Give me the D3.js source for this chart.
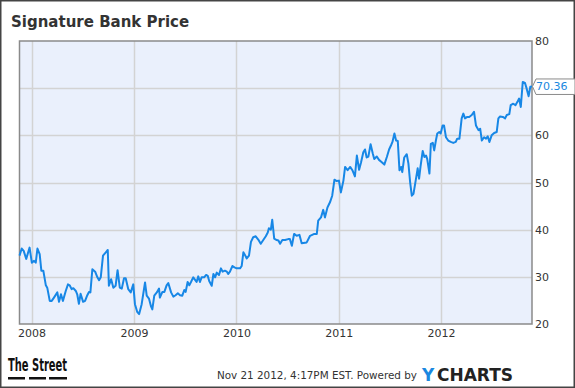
<!DOCTYPE html>
<html>
<head>
<meta charset="utf-8">
<script src="https://cdn.jsdelivr.net/npm/d3@7"></script>
<style>
  body { margin: 0; background: #fff; }
  svg { display: block; font-family: "DejaVu Sans", sans-serif; }
</style>
</head>
<body>
<svg id="chart" width="575" height="388"></svg>
<script>
// weekly-ish closes
var dates = [
  "2007-11-19","2007-11-27","2007-12-04","2007-12-13","2007-12-25","2008-01-02","2008-01-10","2008-01-16","2008-01-22","2008-01-30",
  "2008-02-05","2008-02-12","2008-02-21","2008-02-26","2008-03-06","2008-03-13","2008-03-21","2008-04-02","2008-04-08","2008-04-15",
  "2008-04-22","2008-05-02","2008-05-10","2008-05-16","2008-05-23","2008-05-29","2008-06-07","2008-06-12","2008-06-18","2008-06-24",
  "2008-07-03","2008-07-10","2008-07-18","2008-07-24","2008-07-29","2008-08-05","2008-08-15","2008-08-23","2008-08-29","2008-09-04",
  "2008-09-12","2008-09-22","2008-09-29","2008-10-03","2008-10-11","2008-10-19","2008-10-27","2008-11-03","2008-11-11","2008-11-18",
  "2008-11-26","2008-12-02","2008-12-11","2008-12-20","2008-12-29","2009-01-04","2009-01-12","2009-01-19","2009-01-28","2009-02-09",
  "2009-02-15","2009-02-23","2009-03-02","2009-03-07","2009-03-14","2009-03-23","2009-03-31","2009-04-03","2009-04-12","2009-04-19",
  "2009-04-27","2009-05-03","2009-05-13","2009-05-21","2009-05-29","2009-06-06","2009-06-14","2009-06-22","2009-06-29","2009-07-04",
  "2009-07-11","2009-07-17","2009-07-23","2009-07-31","2009-08-06","2009-08-12","2009-08-18","2009-08-24","2009-08-30","2009-09-08",
  "2009-09-15","2009-09-21","2009-09-26","2009-10-05","2009-10-11","2009-10-17","2009-10-23","2009-10-31","2009-11-07","2009-11-13",
  "2009-11-21","2009-11-28","2009-12-03","2009-12-09","2009-12-18","2009-12-25","2010-01-02","2010-01-14","2010-01-20","2010-01-26",
  "2010-02-01","2010-02-07","2010-02-15","2010-02-22","2010-03-02","2010-03-11","2010-03-20","2010-03-29","2010-04-07","2010-04-16",
  "2010-04-23","2010-04-27","2010-05-04","2010-05-09","2010-05-16","2010-05-25","2010-05-31","2010-06-06","2010-06-14","2010-06-24",
  "2010-07-05","2010-07-11","2010-07-18","2010-07-26","2010-08-04","2010-08-14","2010-08-22","2010-09-09","2010-09-21","2010-10-06",
  "2010-10-15","2010-10-20","2010-10-30","2010-11-07","2010-11-13","2010-11-22","2010-12-01","2010-12-09","2010-12-17","2010-12-25",
  "2011-01-02","2011-01-09","2011-01-18","2011-01-24","2011-02-02","2011-02-11","2011-02-19","2011-02-28","2011-03-07","2011-03-15",
  "2011-03-22","2011-03-30","2011-04-05","2011-04-11","2011-04-17","2011-04-25","2011-05-03","2011-05-08","2011-05-17","2011-05-25",
  "2011-06-04","2011-06-13","2011-06-22","2011-06-30","2011-07-07","2011-07-12","2011-07-19","2011-07-25","2011-07-31","2011-08-06",
  "2011-08-12","2011-08-16","2011-08-23","2011-09-01","2011-09-07","2011-09-13","2011-09-19","2011-09-25","2011-10-01","2011-10-10",
  "2011-10-15","2011-10-20","2011-10-28","2011-11-03","2011-11-09","2011-11-13","2011-11-21","2011-11-26","2011-12-03","2011-12-08",
  "2011-12-14","2011-12-19","2011-12-26","2011-12-31","2012-01-07","2012-01-12","2012-01-19","2012-01-27","2012-02-05","2012-02-14",
  "2012-02-23","2012-02-28","2012-03-07","2012-03-15","2012-03-21","2012-03-27","2012-04-04","2012-04-11","2012-04-20","2012-04-28",
  "2012-05-05","2012-05-14","2012-05-20","2012-05-26","2012-06-03","2012-06-10","2012-06-16","2012-06-22","2012-06-30","2012-07-09",
  "2012-07-18","2012-07-24","2012-07-30","2012-08-09","2012-08-17","2012-08-23","2012-09-01","2012-09-06","2012-09-15","2012-09-23",
  "2012-09-30","2012-10-06","2012-10-12","2012-10-19","2012-10-27","2012-11-02","2012-11-09","2012-11-15","2012-11-21"
];
var prices = [
  34.5,36.0,35.5,33.8,36.2,33.0,33.4,33.0,36.0,34.8,
  31.3,31.3,28.2,27.7,24.9,24.9,25.6,26.7,24.7,26.3,
  24.9,27.0,28.4,28.2,27.4,27.6,27.0,26.3,24.3,26.4,
  24.7,24.9,26.1,26.8,26.7,31.6,31.1,29.9,29.3,29.9,
  34.5,35.2,35.7,28.1,29.5,27.7,28.1,31.4,27.7,27.5,
  29.7,29.7,27.4,26.7,28.4,24.2,22.6,22.1,24.2,28.8,
  26.0,25.4,23.8,23.1,26.0,26.7,27.5,25.6,26.8,26.8,
  28.2,28.7,26.7,25.8,26.1,26.5,26.1,26.0,27.2,26.8,
  28.9,28.2,28.9,29.9,29.4,28.9,30.1,28.9,29.9,29.9,
  30.4,30.2,29.1,28.1,30.6,29.9,30.9,30.4,31.8,31.1,
  31.3,31.1,30.6,31.1,32.3,32.0,31.8,31.8,32.3,35.2,
  34.6,33.9,34.5,37.4,38.4,38.6,37.9,37.0,37.8,38.6,
  39.4,40.3,40.0,42.1,38.1,37.8,37.7,37.0,37.8,37.8,
  38.0,38.0,36.6,39.1,38.7,38.9,37.1,37.3,38.7,39.1,
  39.1,41.9,42.6,44.2,42.6,44.7,45.8,47.2,50.6,50.3,
  50.4,47.9,50.4,53.3,52.6,53.3,52.6,51.3,55.7,52.7,
  54.3,56.4,57.0,55.3,55.5,58.1,56.1,55.0,55.5,54.8,
  54.3,53.8,55.4,57.0,57.9,58.6,60.4,58.9,58.8,52.6,
  53.3,52.2,55.3,56.0,54.0,50.1,47.2,47.6,49.7,53.0,
  50.8,53.3,56.7,55.4,55.7,55.0,51.9,58.2,58.4,56.8,
  58.9,60.4,60.7,60.4,62.1,62.1,59.6,58.9,58.6,58.4,
  58.6,59.3,59.3,63.6,64.6,63.6,63.9,63.9,64.3,65.0,
  62.1,61.1,61.4,58.9,59.6,59.3,59.8,58.6,60.0,60.5,
  60.7,63.6,64.0,63.9,63.6,64.3,64.5,66.4,66.7,66.4,
  67.1,67.8,66.0,71.3,71.1,69.9,68.3,70.3,70.36
];
var yTicks = [20, 30, 40, 50, 60, 70, 80];
var lastLabel = "70.36";

var parse = d3.timeParse("%Y-%m-%d");
var data = dates.map(function(d, i) { return { date: parse(d), value: prices[i] }; });

var svg = d3.select("#chart");
var plotL = 19.5, plotR = 532, plotT = 41, plotB = 324;

var x = d3.scaleTime()
    .domain([data[0].date, data[data.length - 1].date])
    .range([plotL, plotR]);
var y = d3.scaleLinear().domain([20, 80]).range([plotB, plotT]);

var last = data[data.length - 1];
var ly = y(last.value);

// outer frame
svg.append("rect")
    .attr("x", 0.75).attr("y", 0.75)
    .attr("width", 573.5).attr("height", 386.5)
    .attr("fill", "#fff").attr("stroke", "#444").attr("stroke-width", 1.5);

svg.append("text")
    .attr("x", 11).attr("y", 27)
    .attr("font-size", "15px").attr("font-weight", "bold")
    .attr("fill", "#333")
    .text("Signature Bank Price");

// plot background
svg.append("rect")
    .attr("x", plotL).attr("y", plotT)
    .attr("width", plotR - plotL).attr("height", plotB - plotT)
    .attr("fill", "#eaf0fc");

var years = x.ticks(d3.timeYear.every(1));

svg.append("g").selectAll("line")
    .data(years).enter().append("line")
    .attr("x1", function(d) { return Math.round(x(d)) + 0.5; })
    .attr("x2", function(d) { return Math.round(x(d)) + 0.5; })
    .attr("y1", plotT).attr("y2", plotB)
    .attr("stroke", "#d3d3d3").attr("stroke-width", 1.5);

svg.append("g").selectAll("line")
    .data(yTicks.slice(1, -1)).enter().append("line")
    .attr("x1", plotL).attr("x2", plotR)
    .attr("y1", function(d) { return Math.round(y(d)) + 0.5; })
    .attr("y2", function(d) { return Math.round(y(d)) + 0.5; })
    .attr("stroke", "#d3d3d3").attr("stroke-width", 1.5);

// plot border
svg.append("rect")
    .attr("x", plotL).attr("y", plotT)
    .attr("width", plotR - plotL).attr("height", plotB - plotT)
    .attr("fill", "none").attr("stroke", "#8a8a8a").attr("stroke-width", 1.5);

var line = d3.line()
    .x(function(d) { return x(d.date); })
    .y(function(d) { return y(d.value); });

svg.append("path")
    .datum(data)
    .attr("fill", "none")
    .attr("stroke", "#1787e6")
    .attr("stroke-width", 2)
    .attr("stroke-linejoin", "round")
    .attr("d", line);

// tick labels hidden behind the last-value flag are left out
var yAxis = svg.append("g")
    .attr("transform", "translate(" + plotR + ",0)")
    .call(d3.axisRight(y)
        .tickValues(yTicks.filter(function(v) { return Math.abs(y(v) - ly) > 10; }))
        .tickSize(0).tickPadding(3));
yAxis.select(".domain").remove();
yAxis.selectAll("text").attr("font-size", "11px").attr("fill", "#333")
    .attr("font-family", "DejaVu Sans");

var xAxis = svg.append("g")
    .attr("transform", "translate(0," + plotB + ")")
    .call(d3.axisBottom(x).tickValues(years).tickFormat(d3.timeFormat("%Y")).tickSize(0).tickPadding(5));
xAxis.select(".domain").remove();
xAxis.selectAll("text").attr("font-size", "11px").attr("fill", "#333")
    .attr("font-family", "DejaVu Sans");

// last value flag
svg.append("path")
    .attr("d", "M" + (plotR + 0.5) + "," + ly + " L" + (plotR + 4) + "," + (ly - 7.5) +
        " L575," + (ly - 7.5) + " L575," + (ly + 8) + " L" + (plotR + 4) + "," + (ly + 8) + " Z")
    .attr("fill", "#fff").attr("stroke", "#8a8a8a").attr("stroke-width", 1);
svg.append("text")
    .attr("x", plotR + 4).attr("y", ly + 4)
    .attr("font-size", "11px").attr("fill", "#1a88e0")
    .text(lastLabel);

// footer
svg.append("text")
    .attr("x", 8).attr("y", 371)
    .attr("font-family", "'Liberation Sans Narrow', 'DejaVu Sans Condensed', sans-serif")
    .attr("font-size", "18px").attr("font-weight", "bold")
    .attr("fill", "#111")
    .attr("textLength", 59).attr("lengthAdjust", "spacingAndGlyphs")
    .text("The Street");
svg.append("g").selectAll("rect")
    .data([[8, 25], [29, 46], [49, 67]]).enter().append("rect")
    .attr("x", function(d) { return d[0]; })
    .attr("width", function(d) { return d[1] - d[0]; })
    .attr("y", 377).attr("height", 2.5)
    .attr("fill", "#111");

svg.append("text")
    .attr("x", 417).attr("y", 379)
    .attr("text-anchor", "end")
    .attr("font-size", "10.4px").attr("fill", "#333")
    .text("Nov 21 2012, 4:17PM EST. Powered by");

svg.append("text")
    .attr("x", 422).attr("y", 381)
    .attr("font-size", "17px").attr("font-weight", "bold")
    .attr("fill", "#1a88e0")
    .text("Y");
svg.append("text")
    .attr("x", 437).attr("y", 381)
    .attr("font-size", "17px").attr("font-weight", "bold")
    .attr("fill", "#222")
    .attr("textLength", 76).attr("lengthAdjust", "spacingAndGlyphs")
    .text("CHARTS");
</script>
</body>
</html>
